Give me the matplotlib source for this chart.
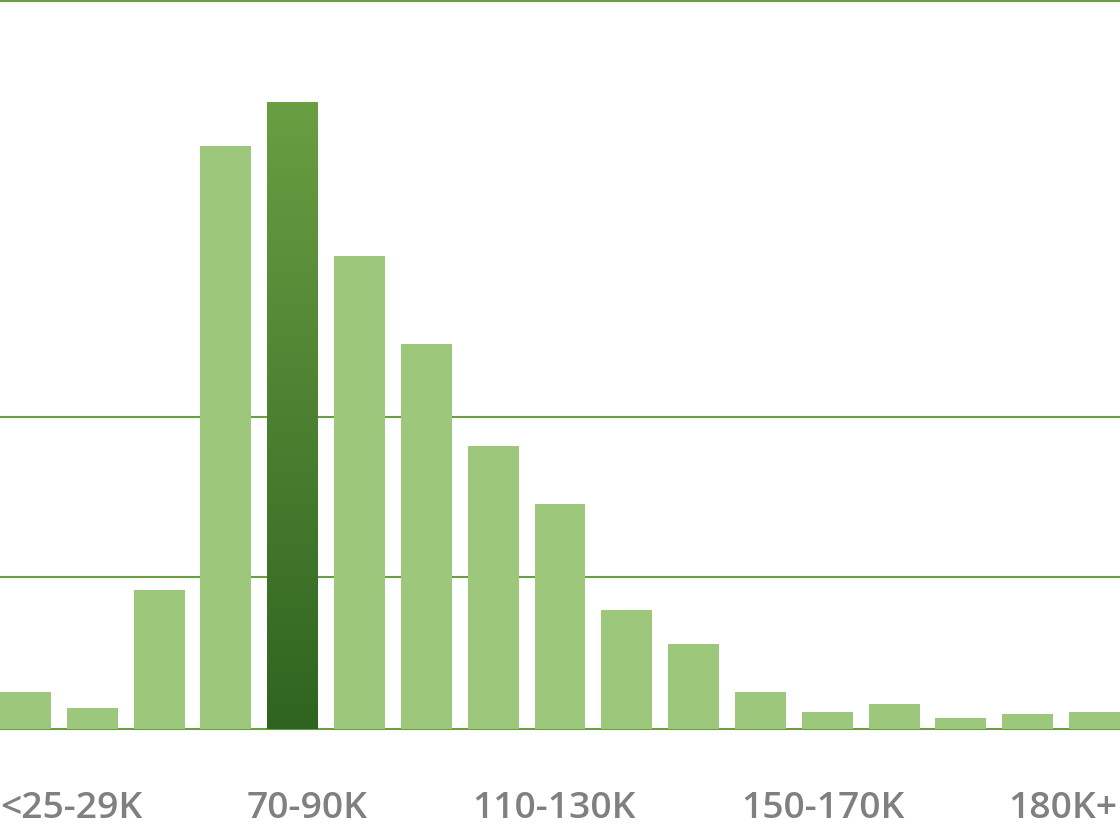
"""
Salary distribution histogram - green bars, highlighted modal band.
"""

import numpy as np
import matplotlib.pyplot as plt
import matplotlib.colors as mcolors

# ── Data ──────────────────────────────────────────────────────────────────────
values = [1.22, 0.69, 4.58, 19.22, 20.67, 15.60, 12.69, 9.33, 7.42,
          3.92, 2.80, 1.22, 0.56, 0.82, 0.36, 0.49, 0.56]
highlight_idx = 4
label_idx = [0, 4, 8, 12, 16]
label_text = ["<25-29K", "70-90K", "110-130K", "150-170K", "180K+"]
grid_vals = [5.0, 10.3]
y_max = 24.0

LIGHT = "#9dc77b"
LINE = "#6a9e45"
DARK_TOP = "#6a9e42"
DARK_BOT = "#2f6420"
TEXT = "#808080"

plt.rcParams["font.family"] = ["Open Sans", "DejaVu Sans"]

# ── Figure ────────────────────────────────────────────────────────────────────
fig = plt.figure(figsize=(11.2, 8.33), dpi=100)
ax = fig.add_axes([0, 1 - 729 / 833, 1, 728 / 833])

n = len(values)
bar_w = 0.763
x = np.arange(n)

# gridlines + baseline + top line
for g in [0] + grid_vals + [y_max]:
    ax.axhline(g, color=LINE, linewidth=1.5, zorder=1, clip_on=False)

bars = ax.bar(x, values, width=bar_w, color=LIGHT, zorder=2, linewidth=0)

# gradient fill for the highlighted bar
hb = bars[highlight_idx]
hb.set_facecolor("none")
cmap = mcolors.LinearSegmentedColormap.from_list("g", [DARK_BOT, DARK_TOP])
grad = np.linspace(0, 1, 256).reshape(-1, 1)
x0 = hb.get_x()
im = ax.imshow(grad, cmap=cmap, origin="lower", aspect="auto",
               extent=[x0, x0 + bar_w, 0, values[highlight_idx]], zorder=3)
im.set_clip_path(hb)
ax.set_xlim(-bar_w / 2, n - 1 + bar_w / 2)
ax.set_ylim(0, y_max)

# category labels (edge labels kept inside the frame, middle ones nudged)
nudge = [0, 0.21, -0.09, -0.06, 0]
xl, xr = ax.get_xlim()
for i, t, d in zip(label_idx, label_text, nudge):
    if i == label_idx[0]:
        xpos, ha = xl, "left"
    elif i == label_idx[-1]:
        xpos, ha = xr - 0.04, "right"
    else:
        xpos, ha = x[i] + d, "center"
    ax.text(xpos, -2.95, t, ha=ha, va="baseline", fontsize=26.8,
            fontweight="semibold", color=TEXT, clip_on=False)

ax.set_axis_off()
fig.savefig("out.png", dpi=100)
